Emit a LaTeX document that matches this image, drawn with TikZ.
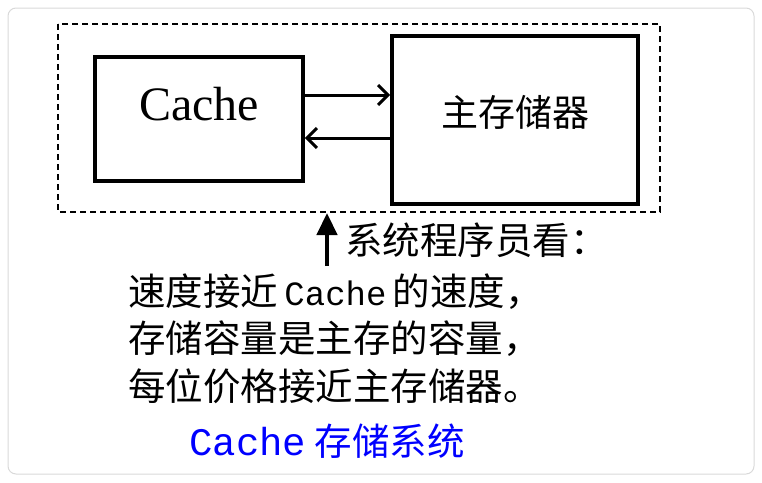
\documentclass[tikz,border=0pt]{standalone}
\usepackage{fontspec}
\setmainfont{Liberation Serif}
\newfontfamily\cjk{Noto Sans CJK SC}
\newfontfamily\mono{Liberation Mono}
\usetikzlibrary{arrows.meta}
\begin{document}
\begin{tikzpicture}[x=1pt,y=-1pt,
  box/.style={draw,line width=3.6pt},
  conn/.style={line width=3pt,-{Straight Barb[length=10pt,width=20pt]}},
  txt/.style={anchor=west,inner sep=0pt,font=\cjk\fontsize{37.5}{40}\selectfont}]
\useasboundingbox (0,0) rectangle (762,482);
\draw[gray!30,line width=1pt,rounded corners=8pt] (8,8) rectangle (754,474);
\draw[line width=2pt,dash pattern=on 6pt off 4pt] (58,24) rectangle (660,212);
\node[box,minimum width=208pt,minimum height=124pt] (c) at (199,119) {};
\node[font=\fontsize{48}{52}\selectfont] (ct) at (199,104) {Cache};
\node[box,minimum width=246pt,minimum height=168pt] (m) at (515,120) {};
\node[font=\cjk\fontsize{37}{40}\selectfont] (mt) at (515,112) {主存储器};
\coordinate (a1) at (c.east|-0,95);
\coordinate (a2) at (m.west|-0,95);
\coordinate (b1) at (m.west|-0,138);
\coordinate (b2) at (c.east|-0,138);
\draw[conn] (a1) -- (a2);
\draw[conn] (b1) -- (b2);
\coordinate (u1) at (327,266);
\coordinate (u2) at (327,213);
\draw[line width=4.5pt,-{Triangle[length=22pt,width=20pt]}] (u1) -- (u2);
\node[txt] (t0) at (345,240) {系统程序员看：};
\node[txt] (t1) at (128,292) {速度接近\,{\mono\fontsize{34}{36}\selectfont Cache}\,的速度，};
\node[txt] (t2) at (128,339) {存储容量是主存的容量，};
\node[txt] (t3) at (128,386) {每位价格接近主存储器。};
\node[txt,anchor=center,text=blue] (t4) at (327,441) {{\mono\fontsize{39}{40}\selectfont Cache} 存储系统};
\end{tikzpicture}
\end{document}
